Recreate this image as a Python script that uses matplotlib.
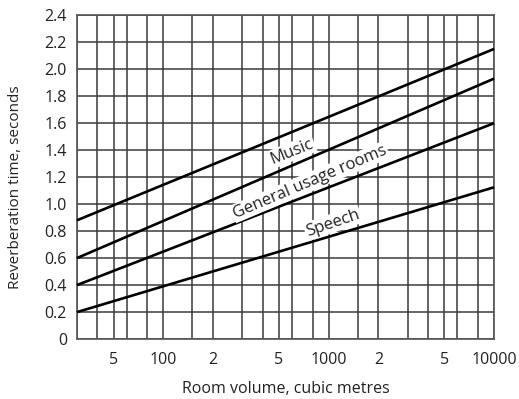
import matplotlib
matplotlib.use("Agg")
import matplotlib.pyplot as plt
import numpy as np
from matplotlib.ticker import FixedLocator, NullFormatter

plt.rcParams['font.family'] = ['Open Sans', 'DejaVu Sans']

# room volume (m^3) at the ends of each line
volume = [30, 10000]
music = [0.88, 2.15]
general = [0.60, 1.93]
general_low = [0.40, 1.60]
speech = [0.20, 1.125]

major_x = [50, 100, 200, 500, 1000, 2000, 5000, 10000]
major_labels = ["5", "100", "2", "5", "1000", "2", "5", "10000"]
minor_x = [30, 40, 60, 80, 150, 300, 400, 600, 800, 1500, 3000, 4000, 6000, 8000]
y_ticks = [0, 0.2, 0.4, 0.6, 0.8, 1.0, 1.2, 1.4, 1.6, 1.8, 2.0, 2.2, 2.4]
y_labels = ["0"] + [f"{v:.1f}" for v in y_ticks[1:]]

labels = ["Music", "General usage rooms", "Speech"]
label_x = [600, 770, 1060]
label_y = [1.39, 1.165, 0.86]
label_rot = [22, 23, 19]

fig = plt.figure(figsize=(5.19, 3.99), dpi=100)
ax = fig.add_axes([0.148, 0.150, 0.804, 0.812])

grid_col = "#3a3a3a"
for series in (music, general, general_low, speech):
    ax.plot(volume, series, color="black", lw=1.9, solid_capstyle="butt",
            zorder=3, clip_on=False)

ax.set_xscale("log")
ax.set_xlim(30, 10000)
ax.set_ylim(0, 2.4)

ax.xaxis.set_major_locator(FixedLocator(major_x))
ax.xaxis.set_minor_locator(FixedLocator(minor_x))
ax.set_xticklabels(major_labels)
ax.xaxis.set_minor_formatter(NullFormatter())
ax.set_yticks(y_ticks)
ax.set_yticklabels(y_labels)

ax.grid(True, which="both", color=grid_col, lw=1.1)
ax.set_axisbelow(True)
ax.tick_params(which="both", length=0, labelsize=11.5, colors="#222222")
ax.tick_params(axis="x", pad=9)
ax.tick_params(axis="y", pad=7)
for sp in ax.spines.values():
    sp.set_color("#555555")
    sp.set_linewidth(1.2)

for txt, lx, ly, rot in zip(labels, label_x, label_y, label_rot):
    ax.text(lx, ly, txt, rotation=rot, rotation_mode="anchor",
            ha="center", va="center", fontsize=12, color="#222222", zorder=4,
            bbox=dict(facecolor="white", edgecolor="none", pad=1.0))

ax.set_xlabel("Room volume, cubic metres", fontsize=11.5, color="#222222")
ax.xaxis.set_label_coords(0.5, -0.13)
ax.set_ylabel("Reverberation time, seconds", fontsize=11, color="#222222")
ax.yaxis.set_label_coords(-0.13, 0.47)

fig.savefig("out.png", dpi=100)
